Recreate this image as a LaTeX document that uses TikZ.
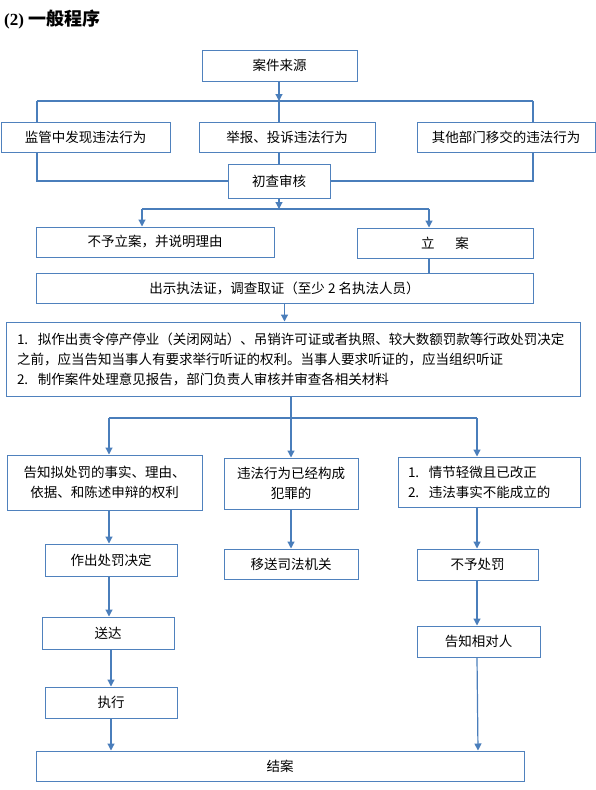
\documentclass[tikz,border=0pt]{standalone}
\usepackage{fontspec}
\setmainfont{Noto Sans CJK SC}
\newfontfamily\titleserif{Liberation Serif}
\newfontfamily\cjktitle{Noto Sans CJK SC}
\usetikzlibrary{arrows.meta}
\definecolor{boxc}{RGB}{79,129,189}
\definecolor{linec}{RGB}{74,126,187}
\newcommand\numlab[1]{\makebox[21pt][l]{#1}}
\tikzset{
  x=1pt, y=-1pt,
  box/.style={draw=boxc, line width=1pt, inner sep=0pt, align=center,
    font=\fontsize{13.5}{20}\selectfont},
  ln/.style={draw=linec, line width=1.2pt},
  arr/.style={ln, -{Triangle[length=7pt,width=7pt]}},
}
\begin{document}
\begin{tikzpicture}
\useasboundingbox (0,0) rectangle (596,790);
\fill[white] (0,0) rectangle (596,790);

% title
\node[anchor=west, inner sep=0pt] (title) at (4,20)
  {{\titleserif\bfseries\fontsize{17}{20}\selectfont (2)}\hspace{4pt}{\cjktitle\bfseries\fontsize{18}{20}\selectfont 一般程序}};

% boxes
\node[box, minimum width=155, minimum height=31] (src) at (279.5,65.5) {案件来源};
\node[box, minimum width=169, minimum height=30] (jg) at (85.5,137) {监管中发现违法行为};
\node[box, minimum width=176, minimum height=30] (jb) at (287,137) {举报、投诉违法行为};
\node[box, minimum width=178, minimum height=30] (qt) at (506,137) {其他部门移交的违法行为};
\node[box, minimum width=102, minimum height=34] (cc) at (279,181) {初查审核};
\node[box, minimum width=238, minimum height=30] (by) at (155,242) {不予立案，并说明理由};
\node[box, minimum width=176, minimum height=30] (la) at (445,243) {立\hspace{21pt}案};
\node[box, minimum width=497, minimum height=30] (cs) at (284.5,288) {出示执法证，调查取证（至少 2 名执法人员）};
\node[box, minimum height=74, text width=552pt, inner xsep=11pt, align=left] (nz) at (293,359)
  {\numlab{1.}拟作出责令停产停业（关闭网站）、吊销许可证或者执照、较大数额罚款等行政处罚决定\\
   之前，应当告知当事人有要求举行听证的权利。当事人要求听证的，应当组织听证\\
   \numlab{2.}制作案件处理意见报告，部门负责人审核并审查各相关材料};
\node[box, minimum width=195, minimum height=55] (ga) at (104.5,482.5) {告知拟处罚的事实、理由、\\依据、和陈述申辩的权利};
\node[box, minimum width=134, minimum height=51] (fz) at (291,483.5) {违法行为已经构成\\犯罪的};
\node[box, minimum height=50, text width=162pt, inner xsep=10pt, align=left] (qj) at (489,482)
  {\numlab{1.}情节轻微且已改正\\\numlab{2.}违法事实不能成立的};
\node[box, minimum width=132, minimum height=32] (zc) at (111,560) {作出处罚决定};
\node[box, minimum width=134, minimum height=30] (ys) at (291,564) {移送司法机关};
\node[box, minimum width=121, minimum height=31] (bc) at (477.5,564.5) {不予处罚};
\node[box, minimum width=132, minimum height=32] (sd) at (108,633) {送达};
\node[box, minimum width=132, minimum height=31] (zx) at (111,702.5) {执行};
\node[box, minimum width=123, minimum height=31] (gz) at (478.5,641.5) {告知相对人};
\node[box, minimum width=488, minimum height=30] (ja) at (280,766) {结案};

% junction coordinates
\coordinate (t1) at (279,101);
\coordinate (t1L) at (37,101);
\coordinate (t1R) at (533,101);
\coordinate (t2) at (279,209);
\coordinate (t2L) at (142,209);
\coordinate (t2R) at (429,209);
\coordinate (t3) at (291,418);
\coordinate (t3L) at (109,418);
\coordinate (t3R) at (477,418);
\coordinate (c5) at (111,0);

% connectors
\draw[arr] (t1 |- src.south) -- (t1);
\draw[ln] (t1L) -- (t1R);
\draw[ln] (t1L) -- (t1L |- jg.north);
\draw[ln] (t1) -- (t1 |- jb.north);
\draw[ln] (t1R) -- (t1R |- qt.north);
\draw[ln] (t1 |- jb.south) -- (cc.north);
\draw[ln] (t1L |- jg.south) |- (cc.west);
\draw[ln] (t1R |- qt.south) |- (cc.east);

\draw[arr] (cc.south) -- (t2);
\draw[ln] (t2L) -- (t2R);
\draw[arr] (t2L) -- (t2L |- by.north);
\draw[arr] (t2R) -- (t2R |- la.north);
\draw[ln] (t2R |- la.south) -- (t2R |- cs.north);
\draw[arr] (cs.south) -- (cs.south |- nz.north);

\draw[ln] (t3 |- nz.south) -- (t3);
\draw[ln] (t3L) -- (t3R);
\draw[arr] (t3L) -- (t3L |- ga.north);
\draw[arr] (t3) -- (fz.north);
\draw[arr] (t3R) -- (t3R |- qj.north);

\draw[arr] (t3L |- ga.south) -- (t3L |- zc.north);
\draw[arr] (fz.south) -- (ys.north);
\draw[arr] (t3R |- qj.south) -- (t3R |- bc.north);
\draw[arr] (t3L |- zc.south) -- (t3L |- sd.north);
\draw[arr] (c5 |- sd.south) -- (c5 |- zx.north);
\draw[arr] (c5 |- zx.south) -- (c5 |- ja.north);
\draw[arr] (t3R |- bc.south) -- (t3R |- gz.north);
\coordinate (c6) at (478,0);
\draw[arr] (t3R |- gz.south) -- (c6 |- ja.north);
\end{tikzpicture}
\end{document}
